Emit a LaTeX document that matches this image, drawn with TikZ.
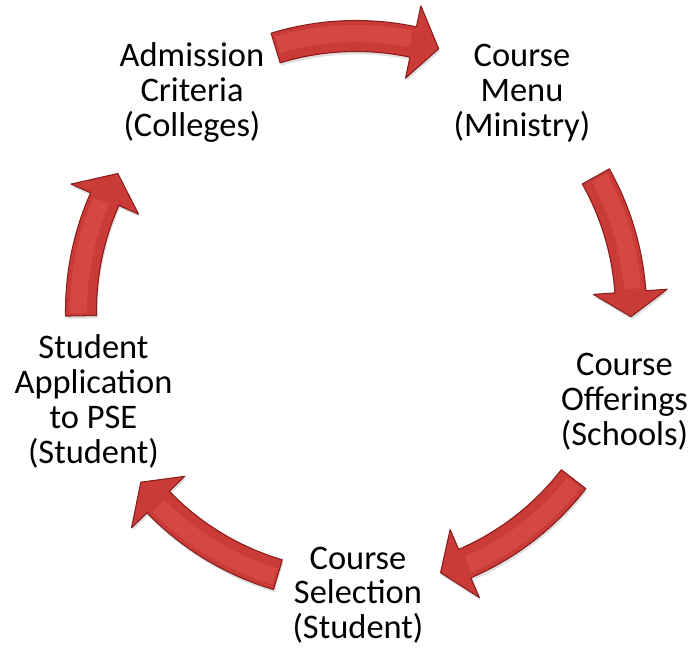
\documentclass[tikz,border=0pt]{standalone}
\usepackage{fontspec}
\setmainfont{Carlito}
\usetikzlibrary{shadows}
\definecolor{arrowred}{RGB}{202,58,54}
\definecolor{arrowdark}{RGB}{135,30,28}
\definecolor{arrowlight}{RGB}{232,100,94}

\tikzset{
  steptext/.style={align=center, font=\fontsize{19.6}{19.8}\selectfont},
  bandarrow/.style={fill=arrowred, draw=arrowdark, line width=0.6pt, line join=round,
    drop shadow={opacity=0.25, shadow xshift=0.6pt, shadow yshift=-1.6pt}}
}

\begin{document}
\begin{tikzpicture}
\useasboundingbox (-7.12,-6.74) rectangle (6.66,6.22);
\def\r{5.5}
\pgfmathsetmacro\ro{\r+0.31}
\pgfmathsetmacro\ri{\r-0.31}
\pgfmathsetmacro\ho{\r+0.74}
\pgfmathsetmacro\hi{\r-0.74}
\pgfmathsetmacro\rh{\r+0.05}
% the five steps
\node[steptext] (admission) at (-3.28,4.37) {Admission\\Criteria\\(Colleges)};
\node[steptext] (menu) at (3.32,4.36) {Course\\Menu\\(Ministry)};
\node[steptext] (offerings) at (5.37,-1.82) {Course\\Offerings\\(Schools)};
\node[steptext] (selection) at (0.04,-5.68) {Course\\Selection\\(Student)};
\node[steptext] (application) at (-5.25,-1.81) {Student\\Application\\to PSE\\(Student)};
% curved arrows: tail angle / head base angle / tip angle
\foreach \t/\b/\p in {107/78/72.5, 29.3/4/-1.2, -37.7/-66.7/-72.1, -106.5/-136/-141.5, 181/156/150}
{
  \draw[bandarrow] (\t:\ro) arc[start angle=\t, end angle=\b, radius=\ro]
    -- (\b:\ho) -- (\p:\r) -- (\b:\hi) -- (\b:\ri)
    arc[start angle=\b, end angle=\t, radius=\ri] -- cycle;
  \pgfmathsetmacro\ta{\t-0.6}
  \pgfmathsetmacro\ba{\b+0.6}
  \draw[arrowlight, line width=0.34cm, opacity=0.35] (\ta:\rh) arc[start angle=\ta, end angle=\ba, radius=\rh];
}
\end{tikzpicture}
\end{document}
